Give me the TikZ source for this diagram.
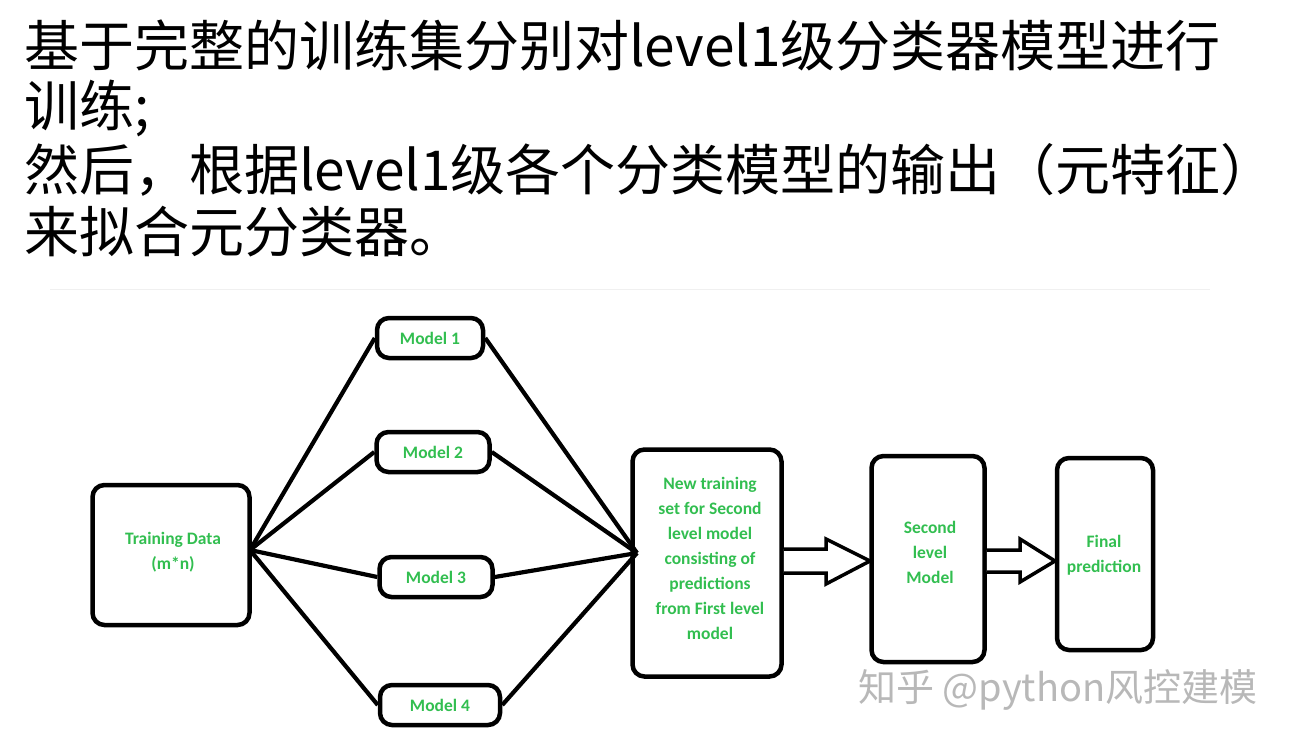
\documentclass[tikz,border=0pt]{standalone}
\usepackage{fontspec}
\setmainfont{Carlito}
\newfontfamily\cjk{Noto Sans CJK SC}
\definecolor{grn}{RGB}{50,190,80}
\begin{document}
\begin{tikzpicture}[x=1pt,y=-1pt,
  box/.style={draw,line width=4.5pt,rounded corners=12pt,inner sep=0pt},
  lbl/.style={font=\bfseries\fontsize{17.5}{25}\selectfont,text=grn,align=center,inner sep=0pt},
  ln/.style={line width=4.2pt},
  title/.style={anchor=west,inner sep=0pt,font=\cjk\fontsize{55}{62}\selectfont}]
\useasboundingbox (0,0) rectangle (1291,748);
\node[title] (t1) at (24,45) {基于完整的训练集分别对level1级分类器模型进行};
\node[title] (t2) at (24,108) {训练;};
\node[title] (t3) at (24,170) {然后，根据level1级各个分类模型的输出（元特征）};
\node[title] (t4) at (24,232) {来拟合元分类器。};
\draw[black!6,line width=1pt] (50,289) -- (1210,289);
\node[box,minimum width=157pt,minimum height=140pt] (td) at (171,555) {};
\node[lbl] (tdl) at (173,552) {Training Data\\(m*n)};
\node[box,minimum width=106pt,minimum height=40pt,lbl] (m1) at (430,338) {Model 1};
\node[box,minimum width=113pt,minimum height=40pt,lbl] (m2) at (433,452) {Model 2};
\node[box,minimum width=113pt,minimum height=40pt,lbl] (m3) at (436,577) {Model 3};
\node[box,minimum width=120pt,minimum height=40pt,lbl] (m4) at (440,705) {Model 4};
\node[box,minimum width=149pt,minimum height=227pt] (nt) at (707,563) {};
\node[lbl] (ntl) at (710,558) {New training\\set for Second\\level model\\consisting of\\predictions\\from First level\\model};
\node[box,minimum width=113pt,minimum height=206pt] (sl) at (928,559) {};
\node[lbl] (sll) at (930,552) {Second\\level\\Model};
\node[box,minimum width=96pt,minimum height=192pt] (fp) at (1105,554) {};
\node[lbl] (fpl) at (1104,555) {Final\\prediction};
\coordinate (a) at (250,550);
\coordinate (b) at (637,553);
\foreach \m in {m1,m2,m3,m4}{
  \draw[ln] (a) -- (\m.west);
  \draw[ln] (\m.east) -- (b);
}
\draw[line width=3.5pt,fill=white,line join=miter] (nt.east |- 0,549) -- (826,549) -- (826,539) -- (870,561) -- (826,584) -- (826,573) -- (nt.east |- 0,573);
\draw[line width=3.5pt,fill=white,line join=miter] (sl.east |- 0,550) -- (1020,550) -- (1020,539) -- (1055,561) -- (1020,582) -- (1020,572) -- (sl.east |- 0,572);
\node[anchor=west,inner sep=0pt,text=black!28,font=\cjk\fontsize{38}{44}\selectfont] (wm) at (858,690) {知乎 @python风控建模};
\end{tikzpicture}
\end{document}
